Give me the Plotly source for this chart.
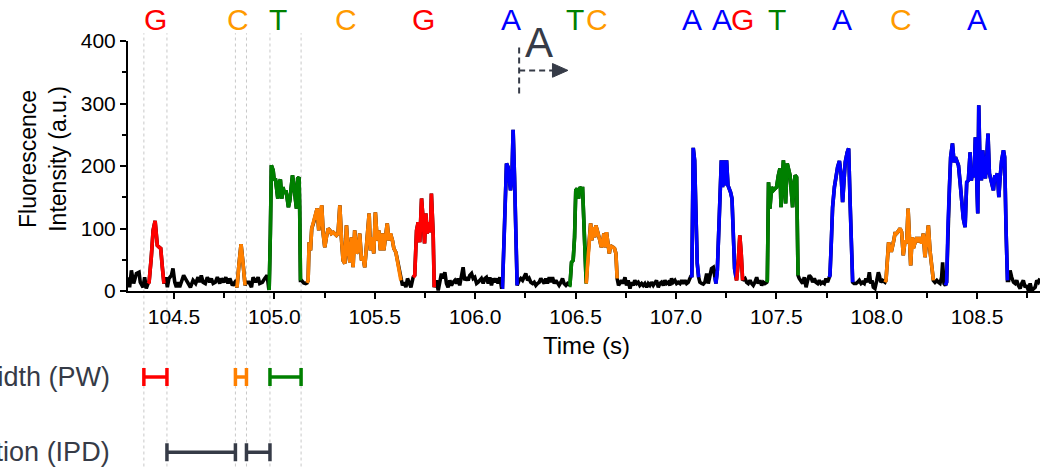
import plotly.graph_objects as go

# ---------------- data ----------------
time_s = [
    104.271, 104.279, 104.288, 104.299, 104.313, 104.326, 104.332, 104.346, 104.354, 104.362, 104.371,
    104.376, 104.387, 104.396, 104.406, 104.412, 104.417, 104.426, 104.434, 104.442, 104.450,
    104.459, 104.467, 104.475, 104.487, 104.495, 104.504, 104.512, 104.520, 104.528, 104.537,
    104.548, 104.562, 104.573, 104.582, 104.595, 104.608, 104.620, 104.628, 104.636, 104.645,
    104.656, 104.666, 104.678, 104.686, 104.695, 104.706, 104.716, 104.728, 104.736, 104.748,
    104.758, 104.769, 104.778, 104.791, 104.803, 104.811,
    104.814, 104.824, 104.834, 104.844, 104.854,
    104.861, 104.874, 104.886, 104.894, 104.907, 104.919, 104.927, 104.940, 104.952, 104.964, 104.972,
    104.974, 104.980, 104.985, 104.994, 104.999, 105.005, 105.010, 105.017, 105.023, 105.030,
    105.037, 105.043, 105.050, 105.057, 105.063, 105.070, 105.077, 105.083, 105.090, 105.096,
    105.103, 105.110, 105.116, 105.123, 105.126, 105.130,
    105.135, 105.146, 105.156, 105.163,
    105.168, 105.173, 105.180, 105.186, 105.196, 105.206, 105.213, 105.221, 105.229, 105.236,
    105.243, 105.251, 105.259, 105.268, 105.276, 105.284, 105.293, 105.301, 105.309, 105.317,
    105.326, 105.334, 105.342, 105.351, 105.359, 105.367, 105.376, 105.384, 105.392, 105.400,
    105.409, 105.417, 105.425, 105.434, 105.442, 105.450, 105.459, 105.467, 105.472, 105.478,
    105.487, 105.495, 105.503, 105.512, 105.520, 105.528, 105.537, 105.545, 105.553, 105.562,
    105.570, 105.578, 105.588, 105.595, 105.605, 105.613, 105.621, 105.630,
    105.638, 105.646, 105.655, 105.663, 105.671, 105.680, 105.691,
    105.699, 105.708, 105.716, 105.724, 105.733, 105.741, 105.748, 105.754, 105.761, 105.771,
    105.777, 105.782, 105.791, 105.796,
    105.799, 105.807, 105.816, 105.824, 105.832, 105.840, 105.849, 105.857, 105.865, 105.874,
    105.882, 105.890, 105.899, 105.907, 105.915, 105.923, 105.932, 105.940, 105.948, 105.957,
    105.965, 105.973, 105.982, 105.990, 105.998, 106.007, 106.015, 106.023, 106.031, 106.040,
    106.048, 106.056, 106.065, 106.073, 106.081, 106.090, 106.098, 106.106, 106.114, 106.123,
    106.131,
    106.136, 106.146, 106.156, 106.164, 106.169, 106.176, 106.183, 106.189, 106.196, 106.203, 106.209,
    106.219, 106.227, 106.236, 106.244, 106.252, 106.261, 106.269, 106.277, 106.286, 106.294,
    106.302, 106.310, 106.319, 106.327, 106.335, 106.344, 106.352, 106.360, 106.369, 106.377,
    106.385, 106.394, 106.402, 106.410, 106.418, 106.427, 106.435, 106.443, 106.452, 106.460,
    106.468,
    106.472, 106.480, 106.488, 106.495, 106.501, 106.508, 106.515, 106.521, 106.528, 106.535,
    106.541, 106.548, 106.553,
    106.561, 106.568, 106.575, 106.581, 106.588, 106.595, 106.601, 106.608, 106.614, 106.621,
    106.628, 106.634, 106.641, 106.648, 106.654, 106.661, 106.668, 106.674, 106.681, 106.687,
    106.694, 106.701, 106.707,
    106.714, 106.721, 106.729, 106.737, 106.746, 106.754, 106.762, 106.771, 106.779, 106.787,
    106.795, 106.804, 106.812, 106.820, 106.829, 106.837, 106.845, 106.854, 106.862, 106.870,
    106.878, 106.887, 106.895, 106.903, 106.912, 106.920, 106.928, 106.937, 106.945, 106.953,
    106.962, 106.970, 106.978, 106.986, 106.995, 107.003, 107.011, 107.020, 107.028, 107.036,
    107.045, 107.053, 107.061, 107.069, 107.076,
    107.079, 107.086, 107.093, 107.099, 107.106, 107.113,
    107.119, 107.128, 107.136, 107.144, 107.153, 107.161, 107.169, 107.177, 107.186, 107.194,
    107.199, 107.206, 107.212, 107.219, 107.226, 107.232, 107.239, 107.246, 107.252, 107.259,
    107.265, 107.272, 107.279, 107.285, 107.292, 107.299,
    107.302, 107.310, 107.318, 107.325, 107.332,
    107.344, 107.352, 107.360, 107.369, 107.377, 107.385, 107.393, 107.402, 107.410, 107.418,
    107.427, 107.435, 107.443, 107.452,
    107.455, 107.461, 107.468, 107.476, 107.485, 107.493, 107.501, 107.510, 107.518, 107.523,
    107.530, 107.535, 107.540, 107.546, 107.554, 107.561, 107.568, 107.574, 107.581, 107.588,
    107.594, 107.601, 107.608,
    107.614, 107.623, 107.631, 107.639, 107.648, 107.656, 107.664, 107.672, 107.681, 107.689,
    107.697, 107.706, 107.714, 107.722, 107.731, 107.739, 107.747, 107.755, 107.764,
    107.767, 107.774, 107.780, 107.789, 107.797, 107.805, 107.814, 107.822, 107.830, 107.837,
    107.843, 107.853, 107.860, 107.867, 107.873, 107.880,
    107.887, 107.897, 107.905, 107.913, 107.922, 107.930, 107.938, 107.946, 107.955, 107.963,
    107.970, 107.976, 107.983, 107.991, 108.000, 108.008, 108.013, 108.020, 108.029, 108.041,
    108.046, 108.053, 108.059, 108.066, 108.074, 108.083, 108.091, 108.099, 108.108, 108.116,
    108.124, 108.132, 108.141, 108.149, 108.156, 108.162, 108.169, 108.176, 108.182, 108.191,
    108.199, 108.207, 108.215, 108.224, 108.232, 108.240, 108.249, 108.257, 108.265, 108.274,
    108.282,
    108.290, 108.299, 108.307, 108.315, 108.323, 108.328, 108.335, 108.342,
    108.348, 108.355, 108.362, 108.368, 108.377, 108.385, 108.392, 108.398, 108.407, 108.415,
    108.423, 108.431, 108.440, 108.448, 108.456, 108.465, 108.471, 108.478, 108.485, 108.491,
    108.498, 108.503, 108.508, 108.514, 108.521, 108.528, 108.534, 108.541, 108.548, 108.554,
    108.561, 108.568, 108.574, 108.581, 108.588, 108.594, 108.601, 108.608, 108.614, 108.622,
    108.631, 108.637, 108.644, 108.651,
    108.657, 108.664, 108.672, 108.681, 108.689, 108.697, 108.705, 108.714, 108.722, 108.730,
    108.739, 108.747, 108.755, 108.764, 108.772, 108.780, 108.789, 108.797, 108.805, 108.813,
]

intensity = [
    22, 6, 33, 12, 28, 30, 14, 6, 22, 4, 12,
    14, 54, 97, 112, 92, 73, 70, 68, 38, 12,
    22, 6, 20, 25, 36, 14, 6, 14, 6, 17,
    25, 17, 12, 6, 17, 12, 22, 14, 25, 14,
    12, 22, 14, 20, 12, 14, 22, 12, 20, 14,
    22, 12, 20, 9, 14, 9,
    6, 44, 75, 44, 9,
    14, 14, 6, 22, 14, 22, 12, 14, 20, 25, 4,
    2, 92, 201, 193, 177, 180, 161, 148, 174, 178,
    148, 166, 156, 161, 150, 134, 145, 172, 185, 172,
    150, 132, 180, 182, 132, 17,
    17, 13, 12, 13,
    17, 78, 65, 100, 110, 124, 132, 97, 126, 137,
    92, 70, 86, 100, 97, 92, 94, 92, 89, 92,
    137, 84, 49, 44, 105, 65, 46, 86, 38, 97,
    60, 65, 92, 49, 54, 38, 81, 110, 124, 65,
    86, 60, 126, 81, 97, 65, 92, 65, 92, 108,
    81, 92, 81, 68, 62, 49, 33, 17,
    9, 14, 6, 20, 12, 6, 22,
    25, 97, 110, 78, 148, 113, 76, 124, 92, 110,
    94, 156, 89, 6,
    9, 17, 1, 12, 28, 20, 30, 12, 6, 17,
    9, 14, 17, 12, 20, 9, 28, 38, 17, 22,
    17, 25, 28, 20, 22, 12, 14, 17, 20, 12,
    20, 22, 12, 22, 9, 20, 14, 20, 12, 22,
    6,
    6, 102, 204, 198, 182, 161, 182, 258, 182, 49, 9,
    17, 20, 17, 22, 28, 17, 20, 14, 12, 14,
    9, 12, 14, 20, 17, 12, 20, 12, 22, 14,
    22, 12, 17, 14, 9, 14, 20, 12, 9, 12,
    9,
    9, 46, 49, 86, 161, 164, 148, 166, 164, 164,
    113, 54, 12,
    54, 92, 108, 81, 102, 86, 105, 97, 86, 81,
    70, 76, 92, 70, 94, 78, 60, 73, 70, 70,
    68, 60, 20,
    9, 12, 17, 12, 22, 9, 17, 4, 14, 9,
    17, 12, 14, 9, 12, 9, 12, 6, 12, 9,
    14, 9, 12, 17, 6, 12, 14, 9, 17, 12,
    14, 9, 20, 14, 17, 12, 14, 12, 17, 12,
    17, 12, 14, 20, 25,
    22, 229, 209, 129, 44, 22,
    14, 12, 11, 14, 28, 12, 28, 36, 38, 22,
    12, 33, 86, 156, 209, 166, 209, 169, 209, 169,
    164, 158, 148, 97, 36, 22,
    17, 46, 89, 60, 17,
    20, 14, 12, 17, 12, 9, 14, 22, 12, 17,
    9, 14, 12, 14,
    17, 174, 132, 166, 161, 164, 166, 185, 196, 134,
    166, 209, 182, 140, 204, 196, 185, 161, 134, 172,
    185, 182, 25,
    20, 14, 12, 22, 6, 17, 25, 22, 14, 20,
    14, 12, 17, 12, 14, 12, 20, 14, 22,
    25, 81, 134, 166, 188, 198, 208, 188, 142, 177,
    206, 222, 228, 145, 65, 14,
    12, 12, 14, 17, 12, 14, 12, 20, 14, 30,
    12, 17, 6, 4, 17, 30, 25, 14, 17, 14,
    17, 49, 78, 65, 65, 78, 92, 92, 97, 100,
    94, 57, 81, 76, 132, 70, 41, 86, 68, 78,
    86, 78, 86, 76, 92, 54, 84, 105, 65, 33,
    17,
    14, 17, 14, 12, 22, 46, 12, 9,
    14, 108, 166, 214, 236, 206, 214, 209, 201, 174,
    142, 116, 102, 174, 177, 222, 177, 193, 182, 246,
    177, 124, 297, 204, 177, 225, 193, 180, 214, 252,
    188, 177, 169, 161, 185, 182, 188, 150, 180, 209,
    225, 214, 97, 17,
    17, 33, 22, 14, 12, 17, 9, 4, 12, 17,
    6, 9, 1, 12, 1, 4, 6, 17, 14, 20,
]

# base calls: pulse windows (s)
pulse_base = ["G", "C", "T", "C", "G", "A", "T", "C", "A", "A", "G", "T", "A", "C", "A"]
pulse_start_s = [104.371, 104.811, 104.972, 105.163, 105.691, 106.131, 106.468, 106.553,
                 107.076, 107.194, 107.299, 107.452, 107.764, 108.041, 108.342]
pulse_end_s = [104.450, 104.854, 105.130, 105.630, 105.796, 106.209, 106.553, 106.707,
               107.113, 107.299, 107.332, 107.608, 107.880, 108.282, 108.651]
call_label_s = [104.409, 104.821, 105.020, 105.356, 105.741, 106.176, 106.496, 106.605,
                107.078, 107.227, 107.332, 107.501, 107.825, 108.119, 108.498]

# pulse width windows for the first three pulses (s)
pw_base = ["G", "C", "T"]
pw_start_s = [104.350, 104.806, 104.978]
pw_end_s = [104.465, 104.861, 105.133]

# incorporation marker
marker_time_s = 106.219
marker_arrow_end_s = 106.462

assert len(time_s) == len(intensity)

trace_color = {"A": "#0000ff", "C": "#ff8000", "G": "#ff0000", "T": "#008000"}
label_color = {"A": "#0000ff", "C": "#ff9a00", "G": "#ff0000", "T": "#008000"}
DARK = "#363b47"
FONT = "Arial, Liberation Sans, Helvetica, sans-serif"
LW = 3.6

fig = go.Figure()

fig.add_trace(go.Scatter(x=time_s, y=intensity, mode="lines",
                         line=dict(color="black", width=LW), hoverinfo="skip", showlegend=False))
for b, s, e in zip(pulse_base, pulse_start_s, pulse_end_s):
    xs = [t for t in time_s if s - 1e-9 <= t <= e + 1e-9]
    ys = [v for t, v in zip(time_s, intensity) if s - 1e-9 <= t <= e + 1e-9]
    fig.add_trace(go.Scatter(x=xs, y=ys, mode="lines",
                             line=dict(color=trace_color[b], width=LW), hoverinfo="skip", showlegend=False))

# dotted guide lines at pulse edges
for t in sorted(set(pw_start_s + pw_end_s)):
    fig.add_shape(type="line", xref="x", yref="paper", x0=t, x1=t, y0=-0.75, y1=1.031,
                  line=dict(color="#c8c8c8", width=1, dash="dot"), layer="below")

def interval(x0, x1, yp, color):
    fig.add_shape(type="line", xref="x", yref="paper", x0=x0, x1=x1, y0=yp, y1=yp,
                  line=dict(color=color, width=3.5))
    for xx in (x0, x1):
        fig.add_shape(type="line", xref="x", yref="paper", x0=xx, x1=xx, y0=yp - 0.036, y1=yp + 0.036,
                      line=dict(color=color, width=3.5))

PW_Y = -0.344
IPD_Y = -0.645
for b, s, e in zip(pw_base, pw_start_s, pw_end_s):
    interval(s, e, PW_Y, trace_color[b])
for i in range(len(pw_start_s) - 1):
    interval(pw_end_s[i], pw_start_s[i + 1], IPD_Y, DARK)

# base call letters on top
for b, t in zip(pulse_base, call_label_s):
    fig.add_annotation(x=t, y=1.085, xref="x", yref="paper", text=b, showarrow=False,
                       font=dict(family=FONT, size=30, color=label_color[b]),
                       xanchor="center", yanchor="middle")

# incorporation marker "A" with dashed elbow arrow
fig.add_shape(type="line", xref="x", yref="y", x0=marker_time_s, x1=marker_time_s, y0=316, y1=396,
              line=dict(color=DARK, width=2, dash="6px,4px"))
fig.add_shape(type="line", xref="x", yref="y", x0=marker_time_s, x1=106.39, y0=353, y1=353,
              line=dict(color=DARK, width=2, dash="6px,4px"))
fig.add_shape(type="path", xref="x", yref="y",
              path=f"M 106.385 342 L {marker_arrow_end_s} 353 L 106.385 364 Z",
              fillcolor=DARK, line=dict(color=DARK, width=1))
fig.add_annotation(x=106.316, y=0.996, xref="x", yref="paper", text="A", showarrow=False,
                   font=dict(family=FONT, size=42, color=DARK), xanchor="center", yanchor="middle")

# axis titles
fig.add_annotation(x=-0.094, y=0.53, xref="paper", yref="paper",
                   text="Fluorescence<br>Intensity (a.u.)", textangle=-90, showarrow=False,
                   font=dict(family=FONT, size=23, color="black"), xanchor="center", yanchor="middle")
fig.add_annotation(x=0.503, y=-0.217, xref="paper", yref="paper", text="Time (s)", showarrow=False,
                   font=dict(family=FONT, size=24, color="black"), xanchor="center", yanchor="middle")

# PW / IPD labels
fig.add_annotation(x=-0.017, y=PW_Y, xref="paper", yref="paper", text="Pulse Width (PW)", showarrow=False,
                   font=dict(family=FONT, size=27, color=DARK), xanchor="right", yanchor="middle")
fig.add_annotation(x=-0.017, y=IPD_Y, xref="paper", yref="paper", text="Interpulse Duration (IPD)",
                   showarrow=False, font=dict(family=FONT, size=27, color=DARK),
                   xanchor="right", yanchor="middle")

fig.update_layout(
    width=1040, height=468,
    margin=dict(l=128, r=0, t=41, b=177, pad=0, autoexpand=False),
    plot_bgcolor="white", paper_bgcolor="white",
    font=dict(family=FONT, size=21, color="black"),
    showlegend=False,
)
fig.update_xaxes(range=[104.271, 108.813], showgrid=False, zeroline=False,
                 showline=True, linecolor="black", linewidth=2,
                 ticks="outside", ticklen=6, tickwidth=2, tickcolor="black",
                 dtick=0.5, tick0=104.5, tickformat=".1f",
                 tickfont=dict(family=FONT, size=21, color="black"),
                 minor=dict(ticks="outside", ticklen=5, tickwidth=2, tickcolor="black", dtick=0.25))
fig.update_yaxes(range=[0, 400], showgrid=False, zeroline=False,
                 showline=True, linecolor="black", linewidth=2,
                 ticks="outside", ticklen=6, tickwidth=2, tickcolor="black",
                 dtick=100, tickfont=dict(family=FONT, size=21, color="black"),
                 minor=dict(ticks="outside", ticklen=4, tickwidth=2, tickcolor="black", dtick=50))

# remove the default 8px page margin so the figure starts at the window corner
fig.write_html("out.html", config={"displayModeBar": False},
               post_script="document.body.style.margin='0';")
